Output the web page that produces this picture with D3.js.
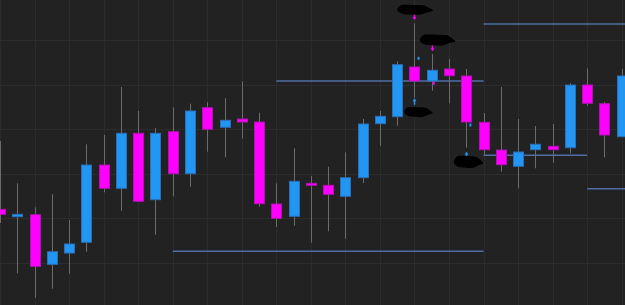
<!DOCTYPE html>
<html>
<head>
<meta charset="utf-8">
<script src="https://cdn.jsdelivr.net/npm/d3@7"></script>
<style>
  html, body { margin: 0; padding: 0; background: #222222; overflow: hidden; }
  svg { display: block; }
</style>
</head>
<body>
<svg id="chart"></svg>
<script>
// candle data, one entry per bar (index = position)
const opens  = [21.95, 20.29, 20.74, 9.59, 12.13, 14.54, 31.91, 26.68, 39.04, 24.11, 39.40, 29.96, 44.79, 40.39, 42.25, 41.58, 23.15, 20.38, 27.80, 27.35, 24.88, 29.06, 41.20, 42.77, 53.94, 50.79, 53.49, 51.92, 41.51, 35.28, 31.62, 35.35, 36.12, 35.80, 49.89, 45.69, 38.27];
const highs  = [37.31, 27.80, 22.41, 25.33, 19.55, 36.57, 38.66, 49.44, 44.05, 40.23, 44.88, 45.69, 46.07, 46.97, 50.73, 43.67, 27.80, 35.67, 29.44, 31.53, 34.77, 42.25, 44.05, 55.22, 63.76, 56.86, 55.74, 53.49, 43.60, 49.44, 42.25, 40.68, 41.13, 50.34, 53.65, 46.07, 53.49];
const lows   = [18.88, 7.57, 2.09, 4.11, 7.48, 12.42, 25.78, 21.64, 23.66, 16.25, 24.88, 27.04, 34.90, 33.64, 37.82, 22.54, 17.98, 18.27, 14.45, 17.01, 15.35, 27.87, 36.18, 40.75, 47.04, 48.61, 45.78, 35.80, 34.16, 30.41, 26.68, 31.17, 32.43, 34.54, 45.24, 33.64, 38.21];
const closes = [20.83, 20.83, 9.14, 12.42, 14.16, 31.91, 26.68, 39.04, 23.75, 39.04, 29.96, 44.05, 39.94, 41.96, 41.58, 23.21, 19.93, 28.25, 27.42, 25.33, 29.06, 41.13, 42.86, 54.46, 50.79, 53.20, 51.98, 41.58, 35.35, 31.98, 34.83, 36.57, 35.35, 49.89, 45.78, 38.66, 51.92];

// horizontal levels: [from bar, to bar, price]
const levels = [
  [16, 28, 50.79],
  [10, 28, 12.51],
  [28, 40, 63.61],
  [28, 34, 34.09],
  [34, 40, 26.59]
];

// signal arrows: [bar, price at tip, direction]
const arrows = [
  [24, 64.6, "down"],
  [25, 57.6, "down"],
  [24, 46.8, "up"],
  [27, 34.8, "up"]
];

// small dots next to wicks: [bar, price, kind]
const dots = [
  [24.12, 55.9, "up"],
  [25.0, 50.3, "down"],
  [27.12, 40.9, "up"]
];

// redacted labels: [bar, price, w, h]
const blobs = [
  [24.0, 66.8, 34, 10],
  [25.3, 60.0, 34, 11],
  [24.2, 43.8, 27, 10],
  [27.1, 32.6, 28, 12]
];

const priceTicks = [10, 20, 30, 40, 50, 60];

const width = 625, height = 305;
const upColor = "#2196f3", upStroke = "#2a6fb8";
const downColor = "#ff00ff", downStroke = "#b312b3";

const svg = d3.select("#chart").attr("width", width).attr("height", height);

const x = d3.scaleLinear().domain([0, 36]).range([0, 621.7]);
const y = d3.scaleLinear().domain([0, 69]).range([307, 0]);

const candles = opens.map((o, i) => ({ i, o, h: highs[i], l: lows[i], c: closes[i] }));

svg.append("rect").attr("width", width).attr("height", height).attr("fill", "#222222");

// grid
const grid = svg.append("g").attr("stroke", "#2c2c2c").attr("stroke-width", 1);
grid.selectAll(".gx")
  .data(d3.range(0, 38, 2))
  .join("line")
  .attr("x1", d => Math.round(x(d)) + 0.5).attr("x2", d => Math.round(x(d)) + 0.5)
  .attr("y1", 0).attr("y2", height);
grid.selectAll(".gy")
  .data(priceTicks)
  .join("line")
  .attr("x1", 0).attr("x2", width)
  .attr("y1", d => Math.round(y(d)) + 0.5).attr("y2", d => Math.round(y(d)) + 0.5);

// levels
svg.append("g").selectAll("line")
  .data(levels)
  .join("line")
  .attr("x1", d => x(d[0])).attr("x2", d => Math.min(x(d[1]), width))
  .attr("y1", d => y(d[2])).attr("y2", d => y(d[2]))
  .attr("stroke", "#4f6fa3").attr("stroke-width", 1.5);

// wicks
svg.append("g").selectAll("line")
  .data(candles)
  .join("line")
  .attr("x1", d => Math.round(x(d.i)) + 0.5).attr("x2", d => Math.round(x(d.i)) + 0.5)
  .attr("y1", d => y(d.h)).attr("y2", d => y(d.l))
  .attr("stroke", "#6c6c6c").attr("stroke-width", 1);

// bodies
const bw = 10;
svg.append("g").selectAll("rect")
  .data(candles)
  .join("rect")
  .attr("x", d => Math.round(x(d.i)) - bw / 2 + 0.5)
  .attr("y", d => y(Math.max(d.o, d.c)))
  .attr("width", bw)
  .attr("height", d => Math.max(2, Math.abs(y(d.o) - y(d.c))))
  .attr("fill", d => d.c >= d.o ? upColor : downColor)
  .attr("stroke", d => d.c >= d.o ? upStroke : downStroke)
  .attr("stroke-width", 1);

// arrows
const ag = svg.append("g");
arrows.forEach(([i, p, dir]) => {
  const cx = Math.round(x(i)) + 0.5, ty = y(p);
  const s = dir === "down" ? -1 : 1;
  const col = dir === "down" ? downColor : upColor;
  ag.append("line")
    .attr("x1", cx).attr("x2", cx)
    .attr("y1", ty).attr("y2", ty + s * 6)
    .attr("stroke", col).attr("stroke-width", 1.5);
  ag.append("path")
    .attr("d", `M${cx - 2},${ty + s * 2.5}L${cx},${ty}L${cx + 2},${ty + s * 2.5}Z`)
    .attr("fill", col);
});

svg.append("g").selectAll("rect")
  .data(dots)
  .join("rect")
  .attr("x", d => x(d[0]) + 1)
  .attr("y", d => y(d[1]) - 1.5)
  .attr("width", 2).attr("height", 3)
  .attr("fill", d => d[2] === "up" ? upColor : downColor);

// blacked-out labels (rough scribble shapes)
const blobLine = d3.line().curve(d3.curveCardinalClosed.tension(0.3));
svg.append("g").selectAll("path")
  .data(blobs)
  .join("path")
  .attr("d", d => {
    const cx = x(d[0]), cy = y(d[1]), w = d[2] / 2, h = d[3] / 2;
    return blobLine([
      [cx - w, cy - h * 0.2], [cx - w * 0.7, cy - h], [cx + w * 0.5, cy - h * 0.9],
      [cx + w * 0.9, cy - h * 0.3], [cx + w * 1.1, cy + h * 0.2], [cx + w * 0.8, cy + h * 0.5],
      [cx + w * 0.3, cy + h], [cx - w * 0.6, cy + h * 0.9], [cx - w * 0.95, cy + h * 0.4]
    ]);
  })
  .attr("fill", "#000");
</script>
</body>
</html>
